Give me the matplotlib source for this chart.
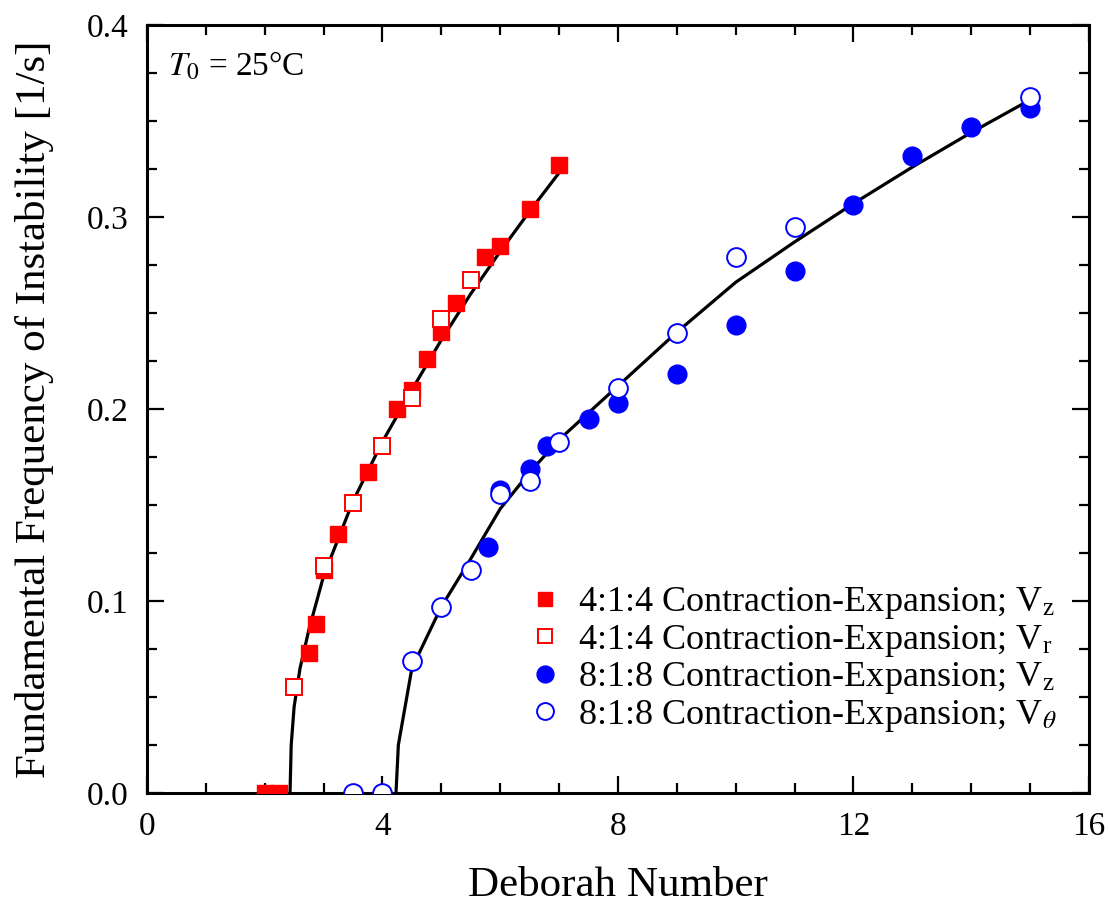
import numpy as np
import matplotlib
matplotlib.use("Agg")
import matplotlib.pyplot as plt
from matplotlib.ticker import MultipleLocator

plt.rcParams['font.family'] = ['Liberation Serif', 'DejaVu Serif']
plt.rcParams['mathtext.fontset'] = 'stix'

# 4:1:4 contraction-expansion, Vz (filled squares)
de_414_vz = [2.0, 2.25, 2.75, 2.875, 3.0, 3.25, 3.75, 4.25, 4.5, 4.75, 5.0, 5.25, 5.75, 6.0, 6.5, 7.0]
f_414_vz = [0.0, 0.0, 0.073, 0.088, 0.116, 0.135, 0.167, 0.2, 0.21, 0.226, 0.24, 0.255, 0.279, 0.285, 0.304, 0.327]

# 4:1:4 contraction-expansion, Vr (open squares)
de_414_vr = [2.5, 3.0, 3.5, 4.0, 4.5, 5.0, 5.5]
f_414_vr = [0.055, 0.118, 0.151, 0.181, 0.206, 0.247, 0.267]

# 8:1:8 contraction-expansion, Vz (filled circles)
de_818_vz = [5.8, 6.0, 6.5, 6.8, 7.5, 8.0, 9.0, 10.0, 11.0, 12.0, 13.0, 14.0, 15.0]
f_818_vz = [0.128, 0.158, 0.169, 0.181, 0.195, 0.203, 0.218, 0.244, 0.272, 0.306, 0.332, 0.347, 0.357]

# 8:1:8 contraction-expansion, Vtheta (open circles)
de_818_vt = [3.5, 4.0, 4.5, 5.0, 5.5, 6.0, 6.5, 7.0, 8.0, 9.0, 10.0, 11.0, 15.0]
f_818_vt = [0.0, 0.0, 0.069, 0.097, 0.116, 0.156, 0.1625, 0.183, 0.211, 0.2395, 0.279, 0.295, 0.3625]

# fitted curves
fit_414_x = [2.43, 2.45, 2.5, 2.6, 2.75, 3.0, 3.5, 4.0, 4.5, 5.0, 5.5, 6.0, 6.5, 7.0]
fit_414_y = [0.0, 0.025, 0.045, 0.065, 0.085, 0.113, 0.152, 0.183, 0.21, 0.236, 0.26, 0.282, 0.303, 0.323]
fit_818_x = [4.23, 4.27, 4.5, 5.0, 5.5, 6.0, 6.5, 7.0, 7.5, 8.0, 9.0, 10.0, 11.0, 12.0, 13.0, 14.0, 15.0]
fit_818_y = [0.0, 0.025, 0.065, 0.097, 0.122, 0.148, 0.167, 0.184, 0.198, 0.212, 0.24, 0.266, 0.287, 0.307, 0.326, 0.344, 0.361]

fig = plt.figure(figsize=(11.1, 9.13), dpi=100)
ax = fig.add_axes([0.1324, 0.1314, 0.8486, 0.8412])

red = '#ff0000'
blue = '#0000ff'

ax.plot(fit_414_x, fit_414_y, color='black', lw=2.3, zorder=2)
ax.plot(fit_818_x, fit_818_y, color='black', lw=2.3, zorder=2)

ax.plot(de_414_vz, f_414_vz, 's', ms=11.5, color=red, mec=red, ls='none', zorder=3,
        label=r'4:1:4 Contraction-Expansion; V$_\mathregular{z}$')
ax.plot(de_414_vr, f_414_vr, 's', ms=11.5, mfc='white', mec=red, mew=1.4, ls='none', zorder=4,
        label=r'4:1:4 Contraction-Expansion; V$_\mathregular{r}$')
ax.plot(de_818_vz, f_818_vz, 'o', ms=13.5, color=blue, mec=blue, ls='none', zorder=3,
        label=r'8:1:8 Contraction-Expansion; V$_\mathregular{z}$')
ax.plot(de_818_vt, f_818_vt, 'o', ms=13.5, mfc='white', mec=blue, mew=1.4, ls='none', zorder=4,
        label=r'8:1:8 Contraction-Expansion; V$_\theta$')

ax.set_xlim(0, 16)
ax.set_ylim(0, 0.4)
ax.xaxis.set_major_locator(MultipleLocator(4))
ax.xaxis.set_minor_locator(MultipleLocator(1))
ax.yaxis.set_major_locator(MultipleLocator(0.1))
ax.yaxis.set_minor_locator(MultipleLocator(0.025))
ax.tick_params(which='both', direction='in', top=True, right=True, width=1.6, labelsize=24)
ax.tick_params(which='major', length=12)
ax.tick_params(which='minor', length=7)
ax.tick_params(axis='x', which='major', pad=13)
ax.tick_params(axis='y', which='major', pad=13)
for sp in ax.spines.values():
    sp.set_linewidth(2.2)

ax.set_xlabel('Deborah Number', fontsize=31, labelpad=18)
ax.set_ylabel('Fundamental Frequency of Instability [1/s]', fontsize=31, labelpad=24)

ax.text(0.022, 0.968, r'$T_0$ = 25°C', transform=ax.transAxes, fontsize=24, va='top', ha='left')

ax.legend(loc='lower right', bbox_to_anchor=(1.0, 0.035), frameon=False, fontsize=26,
          handlelength=0.8, handletextpad=0.5, labelspacing=0.04, borderaxespad=0.5,
          markerscale=0.9)

fig.savefig('out.png', dpi=100)
